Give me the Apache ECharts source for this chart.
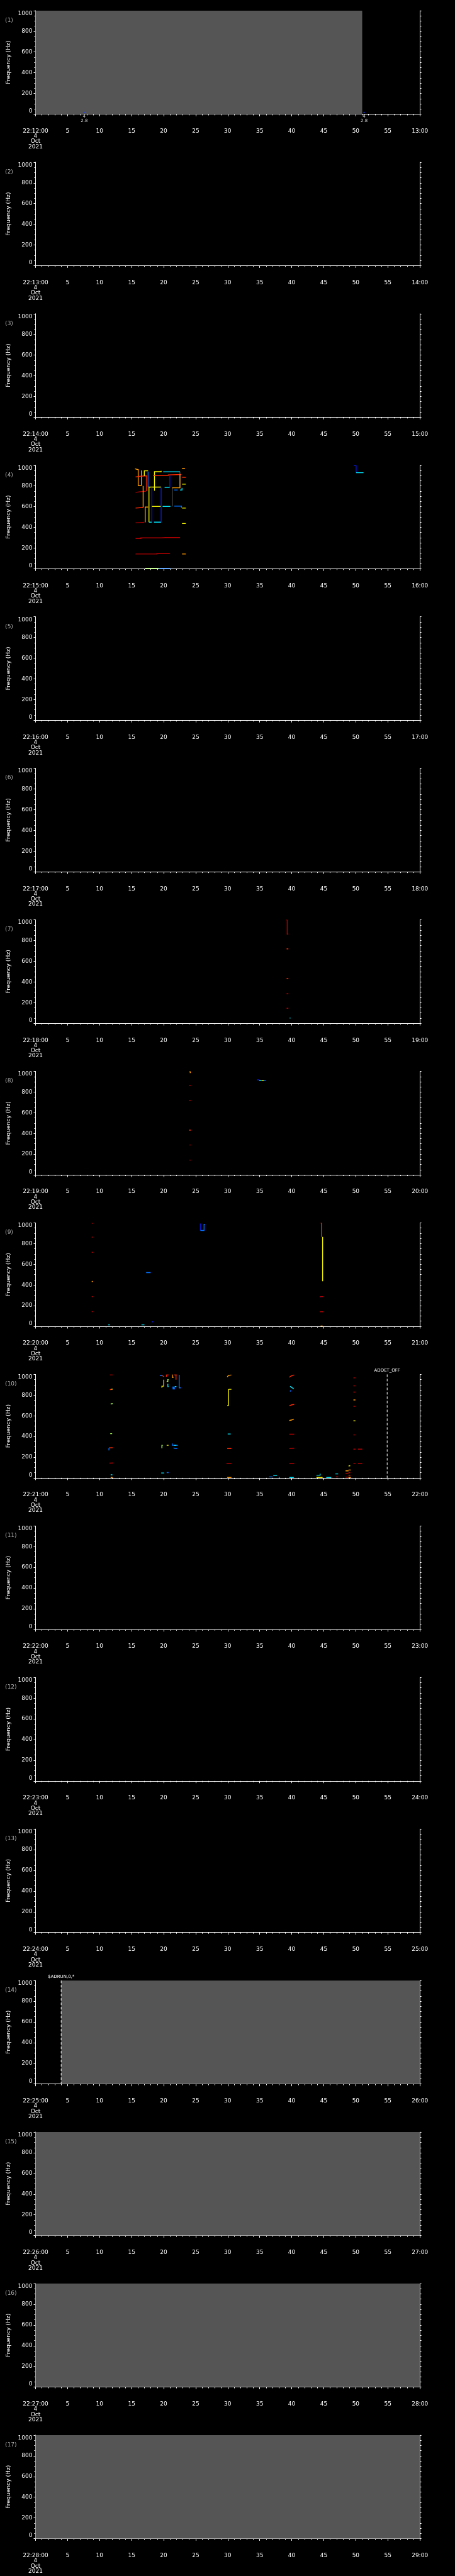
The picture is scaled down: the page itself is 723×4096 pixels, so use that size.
<!DOCTYPE html>
<html>
<head>
<meta charset="utf-8">
<style>
  html, body { margin: 0; padding: 0; background: #000; }
  #chart { width: 723px; height: 4096px; }
</style>
<script src="https://cdn.jsdelivr.net/npm/echarts@6/dist/echarts.min.js"></script>
</head>
<body>
<div id="chart"></div>
<script>
// one panel per minute, 22:12 .. 22:28
const panelHour = 22
const panelMinutes = [12, 13, 14, 15, 16, 17, 18, 19, 20, 21, 22, 23, 24, 25, 26, 27, 28]
const dayLabel = ['4', 'Oct', '2021']

// gray "no data" blocks: panel number, start / end second
const fillPanels = [1, 14, 15, 16, 17]
const fillStart = [0, 4.0, 0, 0, 0]
const fillEnd = [51.0, 60, 60, 60, 60]

// panel 1 small markers
const markerTimes = [7.6, 51.3]
const markerFreqs = [17, 17]
const markerLabels = ['4\n2.8', '4\n2.8']

// event lines
const eventPanels = [10, 14]
const eventTimes = [54.9, 4.0]
const eventTexts = ['ADDET_OFF', '$ADRUN,0,*']

// frequency tracks: [colour, [[second, Hz], ...]]
const tracks4 = [
  ['o', [[15.53, 966], [15.98, 958], [16.03, 958], [16.03, 804], [16.53, 804], [16.53, 950]]],
  ['r', [[15.62, 887], [16.21, 893], [16.98, 897], [17.35, 897], [17.35, 749]]],
  ['dr', [[15.62, 738], [16.35, 744], [17.26, 749]]],
  ['r', [[15.62, 586], [16.35, 590], [16.8, 593]]],
  ['o', [[16.8, 799], [16.8, 593]]],
  ['dr', [[15.62, 443], [16.35, 446], [16.98, 448]]],
  ['o', [[17.12, 448], [17.12, 596], [17.57, 596]]],
  ['y', [[16.98, 897], [16.98, 946], [17.57, 946]]],
  ['b', [[17.57, 940], [17.57, 789]]],
  ['y', [[17.71, 450], [17.71, 789], [19.61, 789]]],
  ['c', [[17.71, 450], [18.16, 450]]],
  ['db', [[18.16, 789], [18.16, 450]]],
  ['y', [[18.16, 602], [19.61, 602]]],
  ['c', [[18.48, 450], [19.61, 450]]],
  ['db', [[19.61, 450], [19.61, 789]]],
  ['y', [[18.57, 754], [18.57, 938], [19.61, 938], [19.61, 946]]],
  ['r', [[18.34, 903], [20.74, 903], [20.74, 907], [22.78, 910]]],
  ['c', [[19.93, 937], [22.55, 937]]],
  ['c', [[20.15, 787], [20.97, 787]]],
  ['db', [[20.97, 903], [20.97, 787]]],
  ['c', [[19.83, 602], [21.06, 602]]],
  ['gr', [[21.33, 602], [21.33, 782]]],
  ['o', [[21.33, 782], [22.55, 782], [22.55, 910]]],
  ['gr', [[22.55, 937], [22.55, 782]]],
  ['b', [[21.64, 761], [22.19, 761]]],
  ['c', [[22.55, 761], [22.87, 761], [22.87, 781]]],
  ['b', [[21.64, 605], [22.78, 605], [22.78, 586]]],
  ['dr', [[15.62, 292], [16.44, 292], [16.44, 298], [19.61, 298], [20.29, 301], [22.55, 301]]],
  ['dr', [[15.62, 142], [18.93, 142], [18.93, 146], [20.97, 146]]],
  ['g', [[17.12, 3], [19.2, 3]]],
  ['b', [[19.2, 3], [21.06, 3]]],
  ['o', [[22.87, 968], [23.33, 968]]],
  ['r', [[22.87, 885], [23.46, 883]]],
  ['y', [[22.87, 817], [23.46, 817]]],
  ['y', [[22.87, 586], [23.46, 586]]],
  ['y', [[22.87, 437], [23.46, 437]]],
  ['o', [[22.87, 142], [23.46, 142]]],
  ['db', [[49.7, 997], [50.05, 997], [50.05, 928]]],
  ['c', [[50.05, 928], [51.2, 928]]]
]

const tracks7 = [
  ['dr', [[39.12, 1000], [39.29, 1000], [39.29, 862], [39.47, 862]]],
  ['r', [[39.2, 719], [39.47, 719]]],
  ['r', [[39.2, 432], [39.47, 432]]],
  ['dr', [[39.2, 286], [39.47, 286]]],
  ['dr', [[39.2, 145], [39.47, 145]]],
  ['c', [[39.68, 51], [39.8, 51]]]
]

const tracks8 = [
  ['o', [[24.0, 1000], [24.15, 1000], [24.15, 988], [24.24, 988]]],
  ['dr', [[24.0, 862], [24.24, 866]]],
  ['dr', [[23.97, 718], [24.24, 720]]],
  ['r', [[23.97, 432], [24.24, 432]]],
  ['dr', [[24.03, 288], [24.24, 288]]],
  ['dr', [[24.03, 142], [24.24, 142]]],
  ['db', [[34.57, 918], [34.92, 918]]],
  ['c', [[34.92, 914], [35.3, 914]]],
  ['y', [[35.3, 914], [35.65, 914]]],
  ['b', [[35.65, 914], [35.92, 914]]]
]

const tracks9 = [
  ['dr', [[8.77, 1000], [8.96, 994]]],
  ['dr', [[8.77, 861], [8.96, 864]]],
  ['dr', [[8.77, 716], [8.96, 716]]],
  ['o', [[8.77, 431], [8.96, 436]]],
  ['dr', [[8.77, 287], [8.96, 287]]],
  ['dr', [[8.77, 143], [8.96, 143]]],
  ['c', [[11.35, 14], [11.62, 14]]],
  ['c', [[16.54, 14], [17.0, 14]]],
  ['db', [[18.16, 44], [18.39, 44]]],
  ['b', [[17.27, 520], [17.97, 520]]],
  ['db', [[25.74, 993], [25.74, 927]]],
  ['b', [[25.74, 927], [26.31, 927], [26.31, 987], [26.47, 987]]],
  ['r', [[44.51, 1000], [44.66, 1000], [44.66, 864]]],
  ['y', [[44.82, 864], [44.82, 436]]],
  ['db', [[44.36, 283], [44.5, 283]]],
  ['dr', [[44.43, 287], [44.9, 287]]],
  ['dr', [[44.43, 141], [44.9, 141]]],
  ['o', [[44.51, 3], [44.82, 3]]]
]

const tracks10 = [
  ['dr', [[11.62, 996], [12.04, 996]]],
  ['r', [[11.62, 852], [11.8, 856]]],
  ['y', [[11.8, 856], [12.04, 858]]],
  ['g', [[11.73, 714], [12.04, 718]]],
  ['g', [[11.66, 427], [11.96, 427]]],
  ['b', [[11.46, 265], [11.46, 290]]],
  ['r', [[11.46, 290], [12.04, 292]]],
  ['dr', [[11.54, 142], [12.12, 144]]],
  ['c', [[11.73, 30], [12.0, 30]]],
  ['o', [[11.73, 4], [12.04, 4]]],
  ['b', [[19.43, 989], [19.81, 989]]],
  ['r', [[19.81, 989], [20.08, 977]]],
  ['r', [[20.39, 982], [20.47, 982], [20.47, 996], [20.77, 996]]],
  ['o', [[21.27, 996], [21.35, 996], [21.35, 972], [21.54, 972]]],
  ['r', [[21.66, 996], [22.04, 996]]],
  ['r', [[21.93, 996], [21.93, 949]]],
  ['b', [[22.43, 996], [22.43, 870], [22.7, 870]]],
  ['o', [[20.0, 950], [20.0, 886]]],
  ['y', [[19.73, 872], [19.73, 886], [20.0, 886]]],
  ['g', [[20.47, 932], [20.66, 932], [20.66, 950], [20.77, 950]]],
  ['c', [[20.66, 910], [20.66, 882], [20.77, 882]]],
  ['b', [[21.35, 878], [21.46, 878], [21.46, 860], [21.54, 860], [21.54, 878], [21.66, 878], [21.66, 860], [21.77, 860]]],
  ['c', [[21.73, 882], [22.0, 882]]],
  ['g', [[19.73, 287], [19.73, 314], [19.85, 314]]],
  ['y', [[20.47, 315], [20.77, 315]]],
  ['b', [[21.35, 332], [21.35, 315], [22.24, 315]]],
  ['c', [[21.6, 315], [22.0, 315]]],
  ['b', [[21.54, 290], [21.8, 283], [22.12, 283]]],
  ['c', [[19.62, 47], [20.08, 47]]],
  ['b', [[20.47, 51], [20.77, 51]]],
  ['o', [[29.93, 975], [30.1, 990], [30.58, 996]]],
  ['y', [[29.93, 696], [30.12, 700], [30.12, 852], [30.2, 856], [30.58, 856]]],
  ['c', [[30.0, 424], [30.47, 424]]],
  ['r', [[29.93, 284], [30.58, 284]]],
  ['dr', [[29.81, 141], [30.58, 141]]],
  ['o', [[29.93, 4], [30.58, 4]]],
  ['r', [[39.62, 972], [39.9, 985], [40.39, 996]]],
  ['c', [[39.74, 885], [40.1, 870], [40.32, 860]]],
  ['b', [[39.74, 835], [39.89, 846]]],
  ['r', [[39.62, 696], [40.0, 706], [40.39, 711]]],
  ['o', [[39.62, 554], [40.0, 560], [40.32, 568]]],
  ['dr', [[39.62, 422], [40.39, 422]]],
  ['dr', [[39.62, 283], [40.0, 285], [40.39, 287]]],
  ['dr', [[39.62, 141], [40.39, 141]]],
  ['c', [[39.62, 4], [40.32, 4]]],
  ['b', [[36.47, 9], [37.01, 9]]],
  ['c', [[37.12, 23], [37.7, 23]]],
  ['b', [[37.97, 4], [38.16, 4]]],
  ['c', [[43.86, 26], [44.43, 26], [44.43, 40]]],
  ['y', [[43.86, 4], [44.82, 4]]],
  ['c', [[45.39, 4], [46.16, 4]]],
  ['c', [[46.82, 38], [47.24, 38]]],
  ['dr', [[46.93, 11], [47.24, 11]]],
  ['y', [[48.86, 114], [49.13, 118]]],
  ['o', [[48.86, 76], [49.24, 76]]],
  ['o', [[48.4, 68], [48.86, 68]]],
  ['dr', [[48.86, 51], [49.16, 51]]],
  ['dr', [[48.4, 40], [48.86, 40]]],
  ['r', [[48.86, 26], [49.16, 26]]],
  ['dr', [[48.4, 7], [48.86, 7]]],
  ['o', [[48.86, 4], [49.24, 4]]],
  ['dr', [[49.63, 967], [49.94, 967]]],
  ['dr', [[49.63, 889], [49.94, 889]]],
  ['dr', [[49.63, 829], [49.94, 829]]],
  ['o', [[49.63, 753], [49.94, 753]]],
  ['dr', [[49.63, 692], [49.94, 692]]],
  ['y', [[49.63, 552], [49.94, 552]]],
  ['dr', [[49.63, 415], [49.94, 415]]],
  ['dr', [[49.63, 278], [49.94, 278]]],
  ['dr', [[49.63, 137], [49.94, 137]]],
  ['dr', [[50.32, 278], [51.01, 278]]],
  ['dr', [[50.32, 141], [51.01, 141]]]
]

const trackPanels = [4, 7, 8, 9, 10]
const trackSets = [tracks4, tracks7, tracks8, tracks9, tracks10]

const colors = {
  dr: '#b00000', r: '#ff2a00', o: '#ff9a00', y: '#f2f200', g: '#a8ff50',
  c: '#00e8ff', b: '#0070ff', db: '#0818d0', gr: '#8c8c8c'
}

// layout, scaled from the 1024 x 5802 original
const S = 4096 / 5802
const PANEL_H = 4096 / 17
const FONT = 'DejaVu Sans'
const gridLeft = 80 * S
const gridWidth = 865 * S
const gridTop = 24 * S
const gridHeight = 233 * S

const grids = []
const xAxes = []
const yAxes = []
const series = []

panelMinutes.forEach((m, i) => {
  grids.push({ left: gridLeft, top: i * PANEL_H + gridTop, width: gridWidth, height: gridHeight })

  const mm = String(m).padStart(2, '0')
  const next = String(m + 1).padStart(2, '0')
  xAxes.push({
    gridIndex: i,
    type: 'value',
    min: 0,
    max: 60,
    interval: 5,
    offset: 24 * S,
    axisLine: { lineStyle: { color: '#fff', width: 1 } },
    axisTick: { length: 3.5, lineStyle: { color: '#fff' } },
    minorTick: { show: true, splitNumber: 5, length: 2, lineStyle: { color: '#fff' } },
    splitLine: { show: false },
    axisLabel: {
      color: '#fff',
      fontFamily: FONT,
      fontSize: 9,
      lineHeight: 8.3,
      margin: 6,
      showMinLabel: true,
      showMaxLabel: true,
      formatter: v => {
        if (v === 0) return [`${panelHour}:${mm}:00`].concat(dayLabel).join('\n')
        if (v === 60) return `${next}:00`
        return String(v)
      }
    }
  })

  yAxes.push({
    gridIndex: i,
    type: 'value',
    min: 0,
    max: 1000,
    interval: 200,
    name: 'Frequency (Hz)',
    nameLocation: 'middle',
    nameGap: 35,
    nameRotate: 90,
    nameTextStyle: { color: '#fff', fontFamily: FONT, fontSize: 9.2 },
    axisLine: { show: true, lineStyle: { color: '#fff', width: 1 } },
    axisTick: { length: 3, lineStyle: { color: '#fff' } },
    minorTick: { show: true, splitNumber: 4, length: 2, lineStyle: { color: '#fff' } },
    splitLine: { show: false },
    axisLabel: {
      color: '#fff',
      fontFamily: FONT,
      fontSize: 9,
      margin: 5,
      formatter: v => String(v),
      verticalAlignMinLabel: 'bottom',
      verticalAlignMaxLabel: 'top'
    }
  })
  yAxes.push({
    gridIndex: i,
    type: 'value',
    position: 'right',
    min: 0,
    max: 1000,
    interval: 200,
    axisLine: { show: true, lineStyle: { color: '#fff', width: 1 } },
    axisTick: { length: 2.5, lineStyle: { color: '#fff' } },
    minorTick: { show: true, splitNumber: 4, length: 2.5, lineStyle: { color: '#fff' } },
    splitLine: { show: false },
    axisLabel: { show: false }
  })
})

// gray blocks
fillPanels.forEach((p, k) => {
  series.push({
    type: 'custom',
    xAxisIndex: p - 1,
    yAxisIndex: (p - 1) * 2,
    silent: true,
    z: 1,
    data: [[fillStart[k], fillEnd[k]]],
    renderItem: (params, api) => {
      const a = api.coord([api.value(0), 1000])
      const b = api.coord([api.value(1), 0])
      return {
        type: 'rect',
        shape: { x: a[0], y: a[1], width: b[0] - a[0], height: b[1] - a[1] },
        style: { fill: '#555555' }
      }
    }
  })
})

// tracks
trackPanels.forEach((p, k) => {
  series.push({
    type: 'lines',
    coordinateSystem: 'cartesian2d',
    xAxisIndex: p - 1,
    yAxisIndex: (p - 1) * 2,
    polyline: true,
    silent: true,
    z: 3,
    data: trackSets[k].map(([c, pts]) => ({
      coords: pts,
      lineStyle: { color: colors[c], width: c === 'gr' ? 0.7 : 1.4, opacity: 1 }
    }))
  })
})

// panel 1 markers
series.push({
  type: 'scatter',
  xAxisIndex: 0,
  yAxisIndex: 0,
  symbol: 'rect',
  symbolSize: [2.5, 1.5],
  itemStyle: { color: '#2040ff' },
  silent: true,
  z: 4,
  data: markerTimes.map((t, k) => ({ value: [t, markerFreqs[k]], label: { formatter: markerLabels[k] } })),
  label: {
    show: true,
    position: 'bottom',
    distance: 2,
    color: '#fff',
    fontFamily: FONT,
    fontSize: 7,
    lineHeight: 7.4
  }
})

// event lines with their labels
eventPanels.forEach((p, k) => {
  series.push({
    type: 'custom',
    xAxisIndex: p - 1,
    yAxisIndex: (p - 1) * 2,
    silent: true,
    clip: false,
    z: 5,
    data: [[eventTimes[k], 0]],
    renderItem: (params, api) => {
      const top = api.coord([api.value(0), 1000])
      const bot = api.coord([api.value(0), 0])
      return {
        type: 'group',
        children: [
          {
            type: 'line',
            shape: { x1: top[0], y1: top[1], x2: bot[0], y2: bot[1] },
            style: { stroke: '#fff', lineWidth: 1, lineDash: [4, 3] }
          },
          {
            type: 'text',
            x: top[0],
            y: top[1] - 2.5,
            style: {
              text: eventTexts[k],
              fill: '#fff',
              font: `7px "${FONT}"`,
              align: 'center',
              verticalAlign: 'bottom'
            }
          }
        ]
      }
    }
  })
})

// panel numbers
const graphics = panelMinutes.map((m, i) => ({
  type: 'text',
  left: 11.5 * S,
  top: i * PANEL_H + 41 * S - 1,
  silent: true,
  style: { text: `(${i + 1})`, fill: '#b0b0b0', font: `9px "${FONT}"` }
}))

const chart = echarts.init(document.getElementById('chart'), null, { renderer: 'canvas' })
chart.setOption({
  backgroundColor: '#000',
  animation: false,
  grid: grids,
  xAxis: xAxes,
  yAxis: yAxes,
  series: series,
  graphic: graphics
})
</script>
</body>
</html>
